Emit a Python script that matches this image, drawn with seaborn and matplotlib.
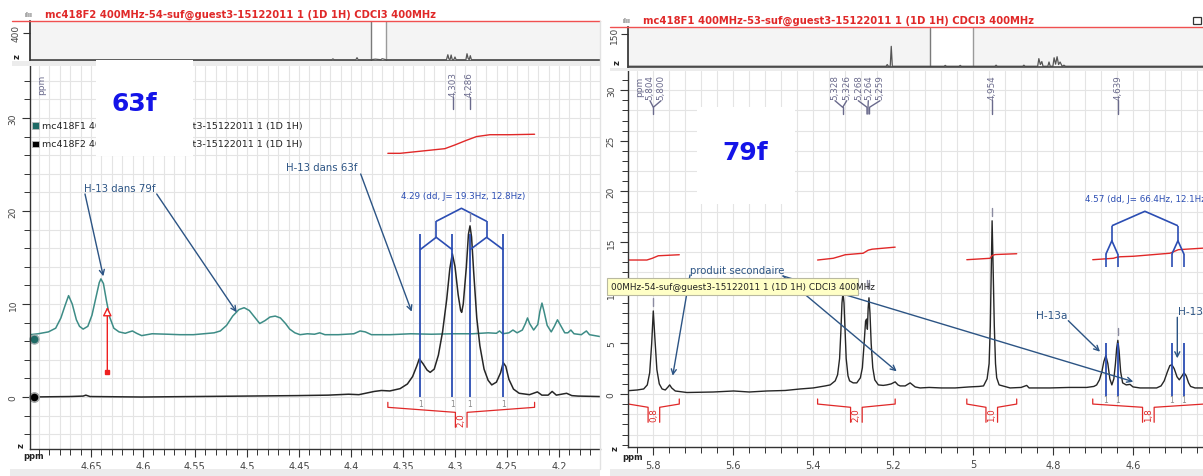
import matplotlib
matplotlib.use('Agg')
import matplotlib.pyplot as plt
import seaborn as sns
from matplotlib.patches import Rectangle, FancyArrowPatch
from matplotlib.ticker import MultipleLocator

W, H = 1203, 477

# ---------------- values ----------------
# left window (63f zoom): 79f trace (teal, stacked) and 63f trace (black)
left_79f_ppm = [4.7086, 4.7008, 4.6909, 4.6839, 4.6789, 4.675, 4.6715, 4.668, 4.664, 4.661,
                4.6575, 4.653, 4.649, 4.645, 4.642, 4.6404, 4.638, 4.635, 4.632, 4.628,
                4.623, 4.617, 4.6131, 4.6101, 4.6061, 4.6012, 4.5912, 4.5763, 4.5644, 4.5515,
                4.5415, 4.5316, 4.5256, 4.5196, 4.5137, 4.5077, 4.5027, 4.4977, 4.4927, 4.4877,
                4.4828, 4.4778, 4.4728, 4.4678, 4.4629, 4.4589, 4.4539, 4.4489, 4.4419, 4.435,
                4.43, 4.425, 4.4121, 4.3972, 4.3912, 4.3862, 4.3803, 4.3624, 4.3425, 4.3226,
                4.3029, 4.283, 4.2681, 4.2601, 4.2571, 4.2541, 4.2481, 4.2442, 4.2402, 4.2352,
                4.2322, 4.2302, 4.2282, 4.2243, 4.2203, 4.2183, 4.2163, 4.2143, 4.2113, 4.2074,
                4.2044, 4.2014, 4.1984, 4.1944, 4.1914, 4.1885, 4.1855, 4.1785, 4.1736, 4.1706,
                4.1605]
left_79f_int = [6.7, 6.8, 7.0, 7.4, 8.5, 9.8, 10.9, 10.0, 8.3, 7.6,
                7.3, 7.6, 8.8, 10.8, 12.3, 12.7, 12.2, 10.3, 8.6, 7.4,
                7.0, 6.85, 7.0, 7.1, 6.85, 6.6, 6.8, 6.75, 6.7, 6.7,
                6.8, 6.9, 7.1, 7.7, 8.7, 9.4, 9.6, 9.3, 8.6, 7.9,
                8.2, 8.6, 8.7, 8.5, 7.9, 7.3, 6.9, 6.7, 6.8, 6.75,
                6.9, 6.7, 6.7, 6.8, 7.1, 7.0, 6.7, 6.7, 6.8, 6.75,
                6.8, 6.8, 6.9, 6.85, 7.1, 6.8, 6.9, 7.2, 6.9, 7.2,
                7.9, 8.5, 7.9, 7.2, 7.8, 9.2, 10.1, 9.2, 7.7, 7.0,
                7.6, 8.3, 7.7, 6.9, 6.9, 7.2, 6.8, 6.7, 7.1, 6.7,
                6.5]
left_63f_ppm = [4.7086, 4.6705, 4.6575, 4.6549, 4.6509, 4.6012, 4.5517, 4.5017, 4.452, 4.422,
                4.4023, 4.3924, 4.3775, 4.3706, 4.3626, 4.3527, 4.3457, 4.3407, 4.3368, 4.3343,
                4.3308, 4.3268, 4.3238, 4.3199, 4.3159, 4.3119, 4.3079, 4.3049, 4.3025, 4.2999,
                4.2969, 4.2945, 4.2935, 4.292, 4.289, 4.287, 4.2855, 4.284, 4.282, 4.279,
                4.276, 4.272, 4.2681, 4.2646, 4.2601, 4.2561, 4.2536, 4.2511, 4.2481, 4.2437,
                4.2382, 4.2283, 4.2207, 4.2164, 4.2104, 4.2065, 4.2025, 4.1926, 4.1876, 4.1816,
                4.1605]
left_63f_int = [0.0, 0.05, 0.1, 0.2, 0.05, 0.0, 0.05, 0.1, 0.15, 0.2,
                0.3, 0.25, 0.6, 0.7, 0.65, 0.9, 1.4, 2.2, 3.3, 4.1,
                3.6, 2.9, 2.65, 3.0, 4.5, 7.0, 10.5, 13.8, 15.4, 14.0,
                11.0, 9.3, 9.1, 10.0, 14.0, 17.5, 18.4, 17.2, 13.5, 8.5,
                5.5, 3.0, 1.8, 1.3, 1.6, 2.6, 3.7, 3.3, 1.9, 0.85,
                0.4, 0.25, 0.55, 0.2, 0.2, 0.6, 0.2, 0.4, 0.15, 0.1,
                0.05]
left_integral_ppm = [4.3645, 4.3527, 4.3097, 4.3, 4.2889, 4.2792, 4.2663, 4.2473, 4.2234]
left_integral_int = [26.2, 26.2, 26.7, 27.1, 27.6, 28.0, 28.2, 28.2, 28.25]
left_multiplet_ppm = [4.3335, 4.3025, 4.2855, 4.2535]
left_integration_range = [(4.3645, 4.2234)]
left_integration_value = ['2,0']
left_peak_marks = [(4.2855, 18.4)]
left_peak_labels = ['4,303', '4,286']
left_xticks = [4.65, 4.6, 4.55, 4.5, 4.45, 4.4, 4.35, 4.3, 4.25, 4.2]
left_xticklabels = ['4,65', '4,6', '4,55', '4,5', '4,45', '4,4', '4,35', '4,3', '4,25', '4,2']
left_yticks = [0, 10, 20, 30]
left_legend = ['mc418F1 400MHz-53-suf@guest3-15122011 1 (1D 1H)',
               'mc418F2 400MHz-54-suf@guest3-15122011 1 (1D 1H)']

# right window (79f spectrum)
right_79f_ppm = [5.8625, 5.84, 5.824, 5.815, 5.809, 5.804, 5.8, 5.796, 5.791, 5.785,
                 5.778, 5.77, 5.763, 5.759, 5.754, 5.745, 5.716, 5.65, 5.599, 5.56,
                 5.516, 5.47, 5.4325, 5.4, 5.37, 5.3575, 5.345, 5.339, 5.334, 5.331,
                 5.328, 5.3255, 5.323, 5.32, 5.3175, 5.313, 5.309, 5.3, 5.291, 5.282,
                 5.277, 5.273, 5.269, 5.2665, 5.2645, 5.2625, 5.2605, 5.258, 5.255, 5.251,
                 5.246, 5.237, 5.225, 5.216, 5.205, 5.195, 5.188, 5.1825, 5.17, 5.1575,
                 5.145, 5.1325, 5.11, 5.08, 5.045, 5.01, 4.985, 4.974, 4.965, 4.96,
                 4.957, 4.9545, 4.9525, 4.95, 4.947, 4.944, 4.941, 4.935, 4.9075, 4.88,
                 4.866, 4.86, 4.84, 4.8075, 4.76, 4.716, 4.698, 4.691, 4.684, 4.678,
                 4.673, 4.668, 4.663, 4.658, 4.653, 4.648, 4.644, 4.641, 4.638, 4.635,
                 4.631, 4.626, 4.617, 4.6075, 4.6, 4.5825, 4.56, 4.541, 4.53, 4.522,
                 4.514, 4.508, 4.503, 4.497, 4.49, 4.4843, 4.479, 4.4725, 4.467, 4.461,
                 4.456, 4.445, 4.425]
right_79f_int = [0.33, 0.4, 0.5, 0.9, 2.1, 5.0, 8.2, 5.5, 2.4, 1.0,
                 0.5, 0.4, 0.7, 0.9, 0.6, 0.3, 0.15, 0.2, 0.3, 0.2,
                 0.3, 0.35, 0.5, 0.6, 0.8, 0.9, 1.3, 1.9, 3.5, 6.0,
                 9.0, 10.0, 9.0, 6.0, 3.5, 1.8, 1.3, 1.1, 1.1, 1.6,
                 2.6, 4.8, 7.2, 7.4, 6.4, 8.5, 9.5, 8.0, 5.0, 2.6,
                 1.4, 0.9, 0.85, 0.9, 1.0, 1.2, 0.9, 0.8, 0.8, 1.1,
                 0.7, 0.6, 0.65, 0.6, 0.6, 0.7, 0.75, 0.8, 1.5, 3.0,
                 6.7, 12.5, 17.1, 12.5, 6.7, 3.0, 1.6, 0.9, 0.6, 0.65,
                 0.85, 0.6, 0.6, 0.6, 0.65, 0.65, 0.75, 0.9, 1.4, 2.2,
                 3.2, 3.8, 3.0, 1.5, 0.9, 1.5, 3.0, 4.5, 5.3, 4.3,
                 2.2, 1.1, 0.9, 0.95, 0.7, 0.6, 0.6, 0.6, 0.8, 1.3,
                 2.2, 2.8, 2.9, 2.5, 1.7, 1.4, 1.7, 2.1, 1.8, 1.1,
                 0.75, 0.6, 0.6]
right_integrals = [
    ([5.862, 5.816, 5.8025, 5.7875, 5.735], [13.23, 13.23, 13.4, 13.65, 13.75]),
    ([5.389, 5.35, 5.3325, 5.32, 5.275, 5.2625, 5.2525, 5.195],
     [13.23, 13.4, 13.6, 13.75, 13.9, 14.2, 14.3, 14.5]),
    ([5.0158, 4.9575, 4.9525, 4.945, 4.891], [13.26, 13.4, 13.67, 13.77, 13.85]),
    ([4.7008, 4.649, 4.6408, 4.6325, 4.599, 4.5075, 4.4867, 4.425],
     [13.26, 13.4, 13.5, 13.55, 13.6, 13.9, 14.25, 14.4]),
]
right_multiplet_ppm = [4.668, 4.638, 4.503, 4.4725]
right_integration_range = [(5.862, 5.735), (5.389, 5.195), (5.0158, 4.891), (4.7008, 4.4226)]
right_integration_value = ['0,8', '2,0', '1,0', '1,8']
right_peak_marks = [(5.8, 8.2), (5.3255, 10.0), (5.2645, 10.0), (5.2605, 10.0),
                    (4.9525, 17.1), (4.638, 5.3)]
right_peak_labels = ['5,804', '5,800', '5,328', '5,326', '5,268', '5,264', '5,259',
                     '4,954', '4,639']
right_xticks = [5.8, 5.6, 5.4, 5.2, 5.0, 4.8, 4.6]
right_xticklabels = ['5,8', '5,6', '5,4', '5,2', '5', '4,8', '4,6']
right_yticks = [0, 5, 10, 15, 20, 25, 30]

# overview strips (full spectra)
ov_left_ppm = [17.17, 6.14, 6.1, 6.06, 5.26, 5.22, 5.18, 4.7, 4.55, 4.35, 4.3, 4.16,
               1.95, 1.9, 1.86, 1.82, 1.78, 1.74, 1.68, 1.64, 1.6, 1.24, 1.2, 1.16, 1.12,
               1.08, 1.04, -3.66]
ov_left_int = [0, 0, 12, 0, 0, 30, 0, 0, 8, 0, 14, 0,
               0, 74, 10, 0, 70, 0, 0, 40, 0, 0, 89, 20, 0, 60, 0, 0]
ov_right_ppm = [15.96, 7.34, 7.3, 7.26, 7.2, 7.166, 7.13, 5.4, 5.36, 5.32, 4.9, 4.86,
                4.82, 3.7, 3.66, 3.62, 2.77, 2.73, 2.69, 2.27, 2.23, 2.18, 2.13, 2.09,
                1.93, 1.89, 1.85, 1.76, 1.72, 1.67, 1.62, 1.57, 1.52, 1.45, 1.39, 1.34, -3.26]
ov_right_int = [0, 0, 8, 0, 0, 94, 0, 0, 4, 0, 0, 4,
                0, 0, 5, 0, 0, 5, 0, 0, 36, 8, 22, 0,
                0, 20, 0, 0, 40, 10, 45, 8, 20, 0, 5, 0, 0]

# ---------------- style ----------------
sns.set_theme(style='white')
plt.rcParams['font.family'] = ['DejaVu Sans']

TEAL = '#3d8c86'
DARK_TEAL = '#1e6a65'
BLACK = '#262626'
RED = '#e02828'
BLUE = '#2b4db3'
ANN = '#2c5484'
LABEL = '#6a6a8c'
GRID = '#e4e4e4'

fig = plt.figure(figsize=(W / 100, H / 100), dpi=100)
fig.patch.set_facecolor('white')


def px_axes(x0, y0, x1, y1, **kw):
    return fig.add_axes([x0 / W, 1 - y1 / H, (x1 - x0) / W, (y1 - y0) / H], **kw)


def style_main(ax, xlim, ylim, xticks, xlabels, xminor, yticks, yminor):
    ax.set_xlim(xlim)
    ax.set_ylim(ylim)
    ax.set_facecolor('white')
    ax.set_xticks(xticks)
    ax.set_xticklabels(xlabels)
    ax.xaxis.set_minor_locator(MultipleLocator(xminor))
    ax.set_yticks(yticks)
    ax.yaxis.set_minor_locator(MultipleLocator(yminor))
    ax.tick_params(axis='both', which='major', direction='out', length=6, width=0.8,
                   color='#333333', labelsize=7, labelcolor='#444444', pad=3,
                   bottom=True, left=True)
    ax.tick_params(axis='both', which='minor', direction='out', length=4, width=0.7,
                   color='#333333', bottom=True, left=True)
    ax.tick_params(axis='y', which='major', labelsize=6.5, labelrotation=90)
    for lab in ax.get_yticklabels():
        lab.set_va('center')
    for s in ['left', 'bottom']:
        ax.spines[s].set_color('#333333')
        ax.spines[s].set_linewidth(1.0)
    sns.despine(ax=ax)
    ax.set_axisbelow(True)
    ax.set_xlabel('')
    ax.set_ylabel('')


def style_overview(ax, xlim, ylim, ytick):
    ax.set_xlim(xlim)
    ax.set_ylim(ylim)
    ax.set_facecolor('#f4f4f4')
    ax.set_xticks([])
    ax.set_yticks([ytick])
    ax.tick_params(axis='y', direction='out', length=5, width=0.8, color='#333333',
                   labelsize=6.5, labelcolor='#444444', labelrotation=90, pad=2, left=True)
    for lab in ax.get_yticklabels():
        lab.set_va('center')
    sns.despine(ax=ax)
    ax.spines['left'].set_color('#333333')
    ax.spines['bottom'].set_color('#444444')
    ax.spines['bottom'].set_linewidth(1.2)
    ax.set_xlabel('')
    ax.set_ylabel('')


def tree(ax, lines, y_apex, y_branch, y_sub, y_leg, y_leg_end, y_top, y_bot):
    l1, l2, l3, l4 = lines
    c1, c2 = (l1 + l2) / 2, (l3 + l4) / 2
    c = (c1 + c2) / 2
    kw = dict(color=BLUE, lw=1.2, solid_capstyle='butt')
    ax.plot([c1, c, c2], [y_branch, y_apex, y_branch], **kw)
    for cc, a, b in [(c1, l1, l2), (c2, l3, l4)]:
        ax.plot([cc, cc], [y_branch, y_sub], **kw)
        ax.plot([a, cc, b], [y_leg, y_sub, y_leg], **kw)
        if y_leg_end is not None:
            ax.plot([a, a], [y_leg, y_leg_end], **kw)
            ax.plot([b, b], [y_leg, y_leg_end], **kw)
    ax.vlines(lines, y_bot, y_top, color=BLUE, lw=1.3)


def bracket(ax, rng, label, half_gap, y_top, y_end, y_mid, y_bot):
    p0, p1 = rng
    c = (p0 + p1) / 2
    kw = dict(color=RED, lw=0.9)
    ax.plot([p0, p0, c + half_gap, c + half_gap], [y_top, y_end, y_mid, y_bot], **kw)
    ax.plot([p1, p1, c - half_gap, c - half_gap], [y_top, y_end, y_mid, y_bot], **kw)
    ax.text(c, (y_mid + y_bot) / 2 + 0.1, label, rotation=90, ha='center', va='center',
            color=RED, fontsize=6.3)


# ---------------- left panel ----------------
axL = px_axes(30, 66.7, 600, 450)
style_main(axL, (4.7086, 4.1605), (-5.59, 35.62), left_xticks, left_xticklabels,
           0.01, left_yticks, 2)
axL.grid(which='both', color=GRID, lw=0.8)
sns.lineplot(x=left_79f_ppm, y=left_79f_int, sort=False, estimator=None, ax=axL,
             color=TEAL, lw=1.1)
sns.lineplot(x=left_63f_ppm, y=left_63f_int, sort=False, estimator=None, ax=axL,
             color=BLACK, lw=1.1)
sns.lineplot(x=left_integral_ppm, y=left_integral_int, sort=False, estimator=None,
             ax=axL, color=RED, lw=1.0)
tree(axL, left_multiplet_ppm, 20.29, 18.89, 17.17, 15.84, None, 17.53, 0.0)
for rng, val in zip(left_integration_range, left_integration_value):
    bracket(axL, rng, val, 0.0056, -0.57, -1.11, -1.65, -3.26)
for p in left_multiplet_ppm:
    axL.text(p, -0.75, '1', color='#8a8a8a', fontsize=5.5, ha='center', va='center')
for p, h in left_peak_marks:
    axL.plot([p, p], [h + 0.55, h + 1.4], color='#8a8aa0', lw=1.0)
axL.plot([4.705, 4.705], [6.2, 0.0], ls='none', marker='o', ms=6.5,
         mfc=DARK_TEAL, mec='#9aa', clip_on=False)
axL.plot([4.705], [0.0], ls='none', marker='o', ms=6.5, mfc='black', mec='#aaa',
         clip_on=False)

ovL = px_axes(30, 22, 600, 61.7)
style_overview(ovL, (17.17, -3.66), (-15, 578), 400)
ovL.axvspan(4.7086, 4.1605, color='white', lw=0)
ovL.axvline(4.7086, color='#7a7a7a', lw=1.0)
ovL.axvline(4.1605, color='#9a9a9a', lw=1.0)
sns.lineplot(x=ov_left_ppm, y=ov_left_int, sort=False, estimator=None, ax=ovL,
             color='#555555', lw=0.9)

# ---------------- right panel ----------------
axR = px_axes(628.3, 72, 1203, 448)
style_main(axR, (5.8625, 4.425), (-5.23, 31.89), right_xticks, right_xticklabels,
           0.04, right_yticks, 1)
axR.grid(which='both', axis='x', color=GRID, lw=0.8)
for yv in range(-4, 32, 2):
    axR.axhline(yv, color=GRID, lw=0.8, zorder=0)
sns.lineplot(x=right_79f_ppm, y=right_79f_int, sort=False, estimator=None, ax=axR,
             color=BLACK, lw=1.0)
for ip, ii in right_integrals:
    sns.lineplot(x=ip, y=ii, sort=False, estimator=None, ax=axR, color=RED, lw=1.0)
tree(axR, right_multiplet_ppm, 18.04, 16.61, 15.13, 13.8, 12.5, 5.0, -0.17)
for rng, val in zip(right_integration_range, right_integration_value):
    bracket(axR, rng, val, 0.0145, -0.49, -0.99, -1.31, -2.79)
for p in right_multiplet_ppm:
    axR.text(p, -0.55, '1', color='#8a8a8a', fontsize=5.5, ha='center', va='center')
for p, h in right_peak_marks:
    axR.plot([p, p], [h + 0.5, h + 1.25], color='#8a8aa0', lw=1.0)

ovR = px_axes(628.3, 28.5, 1203, 68.3)
style_overview(ovR, (15.96, -3.26), (-5, 183), 150)
ovR.axvspan(5.8625, 4.425, color='white', lw=0)
ovR.axvline(5.8625, color='#7a7a7a', lw=1.0)
ovR.axvline(4.425, color='#9a9a9a', lw=1.0)
sns.lineplot(x=ov_right_ppm, y=ov_right_int, sort=False, estimator=None, ax=ovR,
             color='#555555', lw=0.9)

# ---------------- overlay (screen decorations, annotations) ----------------
ov = fig.add_axes([0, 0, 1, 1], zorder=10)
ov.set_xlim(0, W)
ov.set_ylim(H, 0)
ov.axis('off')
ov.patch.set_alpha(0)

# title bars
ov.plot([12, 600], [21.5, 21.5], color='#f05050', lw=1.0)
ov.plot([610, 1203], [28, 28], color='#f05050', lw=1.0)
ov.text(45, 15, 'mc418F2 400MHz-54-suf@guest3-15122011 1 (1D 1H) CDCl3 400MHz',
        color=RED, fontsize=7.2, fontweight='bold', va='center', ha='left')
ov.text(643, 21, 'mc418F1 400MHz-53-suf@guest3-15122011 1 (1D 1H) CDCl3 400MHz',
        color=RED, fontsize=7.2, fontweight='bold', va='center', ha='left')
ov.text(28, 15, 'ılıı', color='#333333', fontsize=5, va='center', ha='center')
ov.text(626, 21, 'ılıı', color='#333333', fontsize=5, va='center', ha='center')
ov.add_patch(Rectangle((1193, 18), 8, 7, fill=False, ec='#333333', lw=0.9))

# gaps between strips and plots, bottom strip
ov.add_patch(Rectangle((12, 62), 588, 4.5, fc='#ececec', ec='none'))
ov.add_patch(Rectangle((610, 68.5), 593, 3.5, fc='#ececec', ec='none'))
ov.add_patch(Rectangle((10, 470), 590, 7, fc='#ececec', ec='none'))
ov.add_patch(Rectangle((610, 470), 593, 7, fc='#ececec', ec='none'))
ov.plot([600, 600], [22, 470], color='#e2e2e2', lw=1.0)

# axis captions
for x, y in [(41.7, 85), (640, 87)]:
    ov.text(x, y, 'ppm', rotation=90, color=LABEL, fontsize=6.5, ha='center', va='center')
for x, y in [(34, 457), (633, 458)]:
    ov.text(x, y, 'ppm', color='#222222', fontsize=6, fontweight='bold',
            ha='center', va='center')
for x, y in [(21, 446), (17, 57), (615, 449), (617, 63)]:
    ov.text(x, y, 'z', rotation=90, color='#222222', fontsize=6, fontweight='bold',
            ha='center', va='center')

# peak pick labels
for x, lab in zip([452.7, 469.5], left_peak_labels):
    ov.text(x, 97, lab, rotation=90, color=LABEL, fontsize=6.3, ha='center', va='bottom')
    ov.plot([x, x], [98, 110], color=LABEL, lw=1.0)
lab_x = [650, 661, 835, 846.7, 858.3, 868.3, 880, 991.7, 1118.3]
for x, lab in zip(lab_x, right_peak_labels):
    ov.text(x, 100, lab, rotation=90, color=LABEL, fontsize=6.3, ha='center', va='bottom')
for (xa, xb), xs in [((650, 661), 653.3), ((835, 846.7), 842.7)]:
    ov.plot([xa, xs, xb], [101.7, 108.3, 101.7], color=LABEL, lw=1.0)
    ov.plot([xs, xs], [108.3, 115], color=LABEL, lw=1.0)
ov.plot([858.3, 867, 867, 867], [101.7, 108.3, 108.3, 115], color=LABEL, lw=1.0)
ov.plot([868.3, 868, 868], [101.7, 108.3, 115], color=LABEL, lw=1.0)
ov.plot([880, 869.5, 869.5], [101.7, 108.3, 115], color=LABEL, lw=1.0)
for x in [991.7, 1118.3]:
    ov.plot([x, x], [101, 115], color=LABEL, lw=1.0)

# legend of the stacked traces
for y, col, txt in [(126.7, DARK_TEAL, left_legend[0]), (145, 'black', left_legend[1])]:
    ov.add_patch(Rectangle((31.7, y - 3.4), 6.8, 6.8, fc=col, ec='#bbbbbb', lw=0.6))
    ov.text(42.5, y, txt, color='#222222', fontsize=6.8, ha='left', va='center')

# white name boxes
ov.add_patch(Rectangle((96, 61), 97, 96, fc='white', ec='none', zorder=5))
ov.text(134, 104, '63f', color='#1414e8', fontsize=18, fontweight='bold',
        ha='center', va='center', zorder=6)
ov.add_patch(Rectangle((697, 108), 98, 97, fc='white', ec='none', zorder=5))
ov.text(745, 153, '79f', color='#1414e8', fontsize=18, fontweight='bold',
        ha='center', va='center', zorder=6)

# multiplet reports
ov.text(463, 197, '4.29 (dd, J= 19.3Hz, 12.8Hz)', color=BLUE, fontsize=6.3,
        ha='center', va='center')
ov.text(1085, 200, '4.57 (dd, J= 66.4Hz, 12.1Hz)', color=BLUE, fontsize=6.3,
        ha='left', va='center')


def arrow(p0, p1, color=ANN, style='->', lw=1.0, ms=9, **kw):
    ov.add_patch(FancyArrowPatch(p0, p1, arrowstyle=style, mutation_scale=ms, color=color,
                                 lw=lw, shrinkA=0, shrinkB=0, **kw))


ov.text(120, 189, 'H-13 dans 79f', color=ANN, fontsize=7.3, ha='center', va='center')
arrow((85, 195), (103.3, 277.3))
arrow((156.7, 195), (236.7, 313.3))
ov.text(322, 168, 'H-13 dans 63f', color=ANN, fontsize=7.3, ha='center', va='center')
arrow((360.7, 175), (411.7, 312.7))
ov.add_patch(FancyArrowPatch((107.3, 372.7), (107.3, 308), arrowstyle='-|>',
                             mutation_scale=13, fc='white', ec='#ee2020', lw=1.0,
                             shrinkA=0, shrinkB=0))
ov.plot([107.3], [372.7], marker='s', ms=3.5, color='#ee2020')

ov.text(736.7, 271, 'produit secondaire', color=ANN, fontsize=7.3, ha='center', va='center')
arrow((690, 276), (672.7, 376.7))
arrow((783, 277), (896.7, 372.3))
arrow((783, 277), (1133.3, 382.7))
ov.text(1051.7, 316, 'H-13a', color=ANN, fontsize=7.6, ha='center', va='center')
arrow((1068.3, 321.7), (1100, 352.7))
ov.text(1178.3, 311.7, 'H-13b', color=ANN, fontsize=7.6, ha='left', va='center')
arrow((1177.3, 318.3), (1177.3, 359.3))

# hover tooltip
ov.add_patch(Rectangle((607, 279), 251, 17, fc='#ffffc6', ec='#b9b9a0', lw=0.8, zorder=7))
ov.text(611, 287.5, '00MHz-54-suf@guest3-15122011 1 (1D 1H) CDCl3 400MHz',
        color='#222222', fontsize=6.4, ha='left', va='center', zorder=8)

fig.savefig('out.png', dpi=100, facecolor='white')
